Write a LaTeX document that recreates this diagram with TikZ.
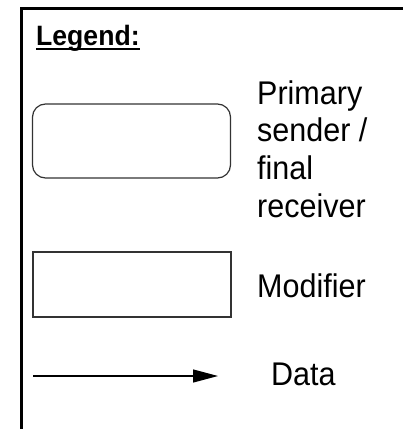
\documentclass[tikz,border=0pt]{standalone}
\usepackage{fontspec}
\setmainfont{Liberation Sans}
\newfontfamily\lblfont[FakeStretch=0.93]{Liberation Sans}
\newfontfamily\titlefont[FakeStretch=0.95,FakeBold=0]{Liberation Sans Bold}
\usetikzlibrary{arrows.meta}
\tikzset{
  frame/.style={line width=3pt, black},
  legendbox/.style={draw=black!80, line width=1.2pt},
  lbl/.style={anchor=base west, inner sep=0pt, font=\lblfont\fontsize{32.8}{38}\selectfont},
  title/.style={anchor=base west, inner sep=0pt, font=\titlefont\fontsize{28}{32}\selectfont},
  uline/.style={line width=2pt},
  dataarrow/.style={line width=1.2pt, -{Triangle[length=25pt,width=13pt]}}
}
\begin{document}
\begin{tikzpicture}[x=1pt,y=-1pt]
\useasboundingbox (0,0) rectangle (403,429);
\draw[frame] (21,440) -- (21,8.5) -- (420,8.5);
\node[title] (legend) at (36,45) {Legend:};
\draw[uline] ([yshift=-3.5pt]legend.base west) -- ([yshift=-3.5pt]legend.base east);
\draw[legendbox, rounded corners=13pt] (32.5,104) rectangle (230.5,178);
\node[lbl] (p1) at (257,104) {Primary};
\node[lbl] (p2) at (257,141) {sender /};
\node[lbl] (p3) at (257,179) {final};
\node[lbl] (p4) at (257,217) {receiver};
\draw[legendbox] (33,252) rectangle (231,317);
\node[lbl] (mod) at (257,297) {Modifier};
\coordinate (a1) at (33,376);
\coordinate (a2) at (218,376);
\draw[dataarrow] (a1) -- (a2);
\node[lbl] (data) at (271,385) {Data};
\end{tikzpicture}
\end{document}
